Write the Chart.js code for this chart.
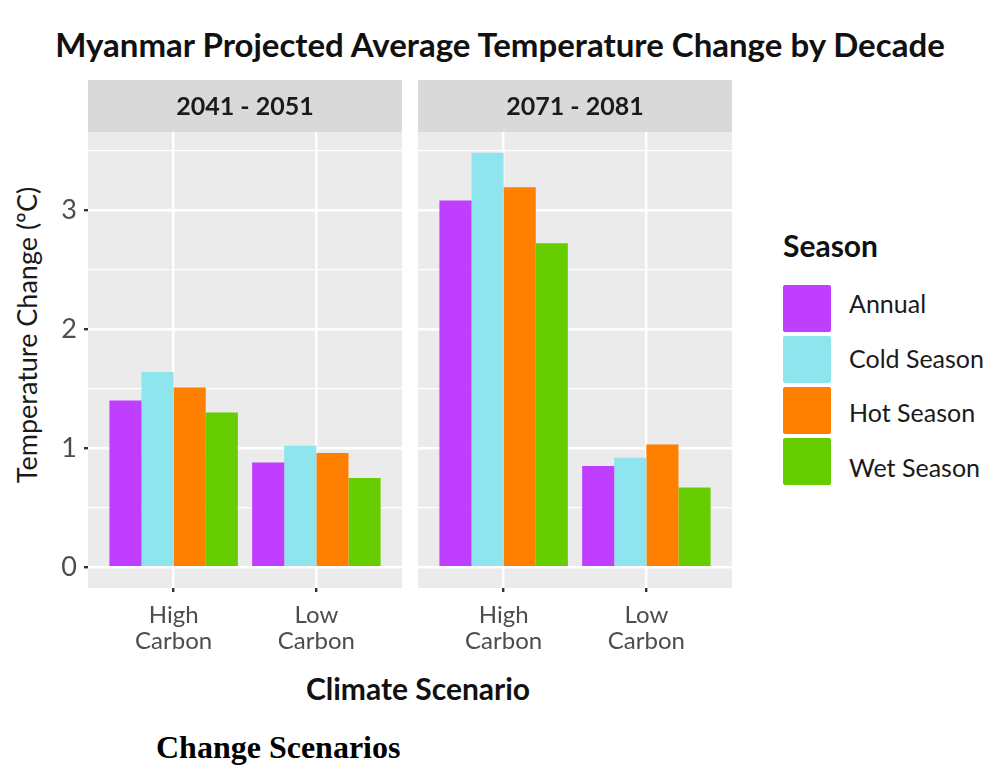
<!DOCTYPE html>
<html>
<head>
<meta charset="utf-8">
<script src="https://cdn.jsdelivr.net/npm/chart.js@4.4.1/dist/chart.umd.min.js"></script>
<style>
  html, body { margin:0; padding:0; background:#fff; }
  body { width:993px; height:767px; position:relative; overflow:hidden; font-family:Lato, "Open Sans", sans-serif; }
  .abs { position:absolute; white-space:nowrap; }
  #title { left:0; width:1000px; top:24px; text-align:center; font-weight:700; font-size:33px; line-height:40px; color:#111; }
  #ytitle { left:-173px; width:400px; top:318px; text-align:center; font-size:27px; line-height:34px; color:#1a1a1a; transform:rotate(-90deg); transform-origin:50% 50%; }
  #xtitle { left:0; width:836px; top:670px; text-align:center; font-weight:700; font-size:30px; line-height:36px; color:#111; }
  #caption { left:156px; top:731px; font-family:"Liberation Serif", "Times New Roman", serif; font-weight:700; font-size:32px; line-height:32px; color:#000; }
  #legend { left:783px; top:226px; width:210px; height:270px; }
  #legend .lt { position:absolute; left:0; top:0; font-weight:700; font-size:30px; line-height:38px; color:#111; }
  #legend .key { position:absolute; left:0; width:48px; height:47px; border-radius:2px; }
  #legend .lab { position:absolute; left:66px; line-height:30px; font-size:25px; color:#1a1a1a; }
  canvas { position:absolute; }
</style>
</head>
<body>
<div id="title" class="abs">Myanmar Projected Average Temperature Change by Decade</div>
<div id="ytitle" class="abs"></div>
<canvas id="c1" width="402" height="580" style="left:0px; top:80px;"></canvas>
<canvas id="c2" width="314" height="580" style="left:418px; top:80px;"></canvas>
<div id="xtitle" class="abs">Climate Scenario</div>
<div id="legend" class="abs"></div>
<div id="caption" class="abs">Change Scenarios</div>
<script>
// ---- data ----
const facets = ['2041 - 2051', '2071 - 2081'];
const scenarios = ['High Carbon', 'Low Carbon'];
const seasons = ['Annual', 'Cold Season', 'Hot Season', 'Wet Season'];
const annual_2041 = [1.40, 0.88];
const cold_2041   = [1.64, 1.02];
const hot_2041    = [1.51, 0.96];
const wet_2041    = [1.30, 0.75];
const annual_2071 = [3.08, 0.85];
const cold_2071   = [3.48, 0.92];
const hot_2071    = [3.19, 1.03];
const wet_2071    = [2.72, 0.67];
const yTicks = [0, 1, 2, 3];
const yMinor = [0.5, 1.5, 2.5, 3.5];
const yTitle = 'Temperature Change (ºC)';
const legendTitle = 'Season';

// ---- styles ----
const colors = ['#BF3EFF', '#8EE5EE', '#FF7F00', '#66CD00'];
const STRIP_H = 52;

const seriesByFacet = [
  [annual_2041, cold_2041, hot_2041, wet_2041],
  [annual_2071, cold_2071, hot_2071, wet_2071]
];

Chart.defaults.font.family = 'Lato';

const panelPlugin = {
  id: 'panel',
  beforeDraw(chart, args, opts) {
    const {ctx, chartArea: a} = chart;
    ctx.save();
    ctx.fillStyle = '#EBEBEB';
    ctx.fillRect(a.left, a.top, a.right - a.left, a.bottom - a.top);
    ctx.fillStyle = '#D9D9D9';
    ctx.fillRect(a.left, a.top - STRIP_H, a.right - a.left, STRIP_H);
    ctx.fillStyle = '#1A1A1A';
    ctx.font = '700 25px Lato';
    ctx.textAlign = 'center';
    ctx.textBaseline = 'middle';
    ctx.fillText(opts.text, (a.left + a.right) / 2, a.top - STRIP_H / 2 + 1);
    ctx.restore();
  }
};

const yMin = -0.174, yMax = 3.654;
const allY = yTicks.concat(yMinor).sort((a, b) => a - b);
const isMajor = v => yTicks.some(t => Math.abs(t - v) < 1e-9);

function makeChart(id, fi, showY) {
  const datasets = seasons.map((s, i) => ({
    label: s,
    data: seriesByFacet[fi][i].map((v, j) => ({x: j + 1, y: v})),
    backgroundColor: colors[i],
    borderWidth: 0,
    categoryPercentage: 0.9,
    barPercentage: 1.0
  }));
  return new Chart(document.getElementById(id), {
    type: 'bar',
    data: {datasets},
    options: {
      responsive: false,
      animation: false,
      devicePixelRatio: 1,
      layout: {padding: {top: STRIP_H, left: 0, right: 0, bottom: 0}},
      plugins: {legend: {display: false}, tooltip: {enabled: false}, panel: {text: facets[fi]}},
      scales: {
        x: {
          type: 'linear', min: 0.4, max: 2.6, offset: false,
          afterBuildTicks: s => { s.ticks = scenarios.map((_, j) => ({value: j + 1})); },
          afterFit: s => { s.height = 72; },
          border: {display: false},
          grid: {offset: false, color: '#FFFFFF', lineWidth: 2.4, drawTicks: true, tickLength: 4, tickColor: '#333333'},
          ticks: {
            autoSkip: false, maxRotation: 0, padding: 10, color: '#4D4D4D',
            font: {size: 24, lineHeight: 1.1},
            callback: v => { const n = scenarios[Math.round(v) - 1]; return n ? n.split(' ') : ''; }
          }
        },
        y: {
          type: 'linear', min: yMin, max: yMax,
          afterBuildTicks: s => { s.ticks = allY.map(v => ({value: v})); },
          afterFit: s => { s.width = showY ? 88 : 0; },
          border: {display: false},
          grid: {
            color: '#FFFFFF',
            lineWidth: c => (c.tick && isMajor(c.tick.value)) ? 2.4 : 1.2,
            drawTicks: showY, tickLength: 4,
            tickColor: c => (c.tick && isMajor(c.tick.value)) ? '#333333' : 'rgba(0,0,0,0)'
          },
          ticks: {
            display: showY, padding: 7, color: '#4D4D4D', font: {size: 27},
            callback: v => isMajor(v) ? String(Math.round(v)) : ''
          },
          title: {display: false}
        }
      }
    },
    plugins: [panelPlugin]
  });
}

makeChart('c1', 0, true);
makeChart('c2', 1, false);

document.getElementById('ytitle').textContent = yTitle;

// legend
const lg = document.getElementById('legend');
const lt = document.createElement('div'); lt.className = 'lt'; lt.textContent = legendTitle; lg.appendChild(lt);
const keyTops = [59, 110, 161, 212];
const labCenters = [77, 132, 186, 241];
seasons.forEach((s, i) => {
  const k = document.createElement('div'); k.className = 'key';
  k.style.background = colors[i]; k.style.top = keyTops[i] + 'px';
  const l = document.createElement('div'); l.className = 'lab'; l.textContent = s;
  l.style.top = (labCenters[i] - 15) + 'px';
  lg.appendChild(k); lg.appendChild(l);
});
</script>
</body>
</html>
